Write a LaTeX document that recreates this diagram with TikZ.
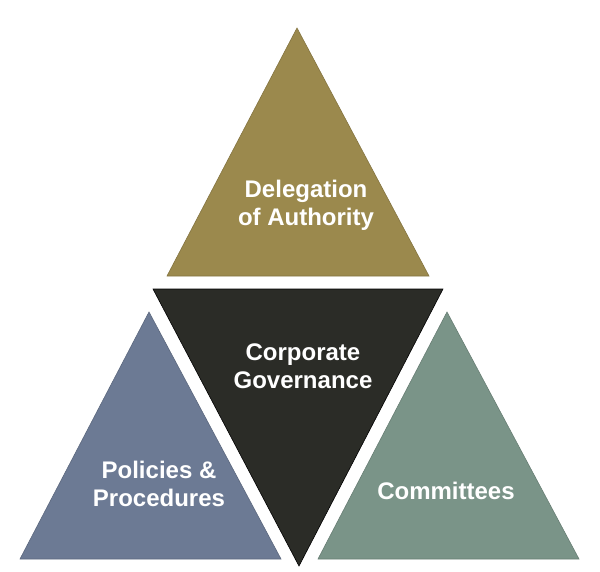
\documentclass[tikz,border=0pt]{standalone}
\usepackage{fontspec}
\setmainfont{Liberation Sans}
\definecolor{olive}{HTML}{9B894D}
\definecolor{slate}{HTML}{6C7A94}
\definecolor{sage}{HTML}{7A9488}
\definecolor{coal}{HTML}{2B2C27}
\tikzset{
  tri/.style={line width=0.6pt,line join=miter},
  label/.style={text=white,font=\fontsize{24}{28}\selectfont\bfseries,align=center}
}
\begin{document}
\begin{tikzpicture}[x=1pt,y=-1pt]
\useasboundingbox (0,0) rectangle (600,571);
\filldraw[tri,fill=olive,draw=olive!85!black](297,28) -- (429,276) -- (167,276) -- cycle;
\filldraw[tri,fill=coal,draw=black](153,289) -- (443,289) -- (299,566) -- cycle;
\filldraw[tri,fill=slate,draw=slate!85!black](149,312) -- (281,559) -- (20,559) -- cycle;
\filldraw[tri,fill=sage,draw=sage!85!black](447,312) -- (579,559) -- (318,559) -- cycle;
\node[label](delegation) at (306,205){Delegation\\of Authority};
\node[label](governance) at (303,366){Corporate\\Governance};
\node[label](policies) at (159,484){Policies \&\\Procedures};
\node[label](committees) at (446,491){Committees};
\end{tikzpicture}
\end{document}
